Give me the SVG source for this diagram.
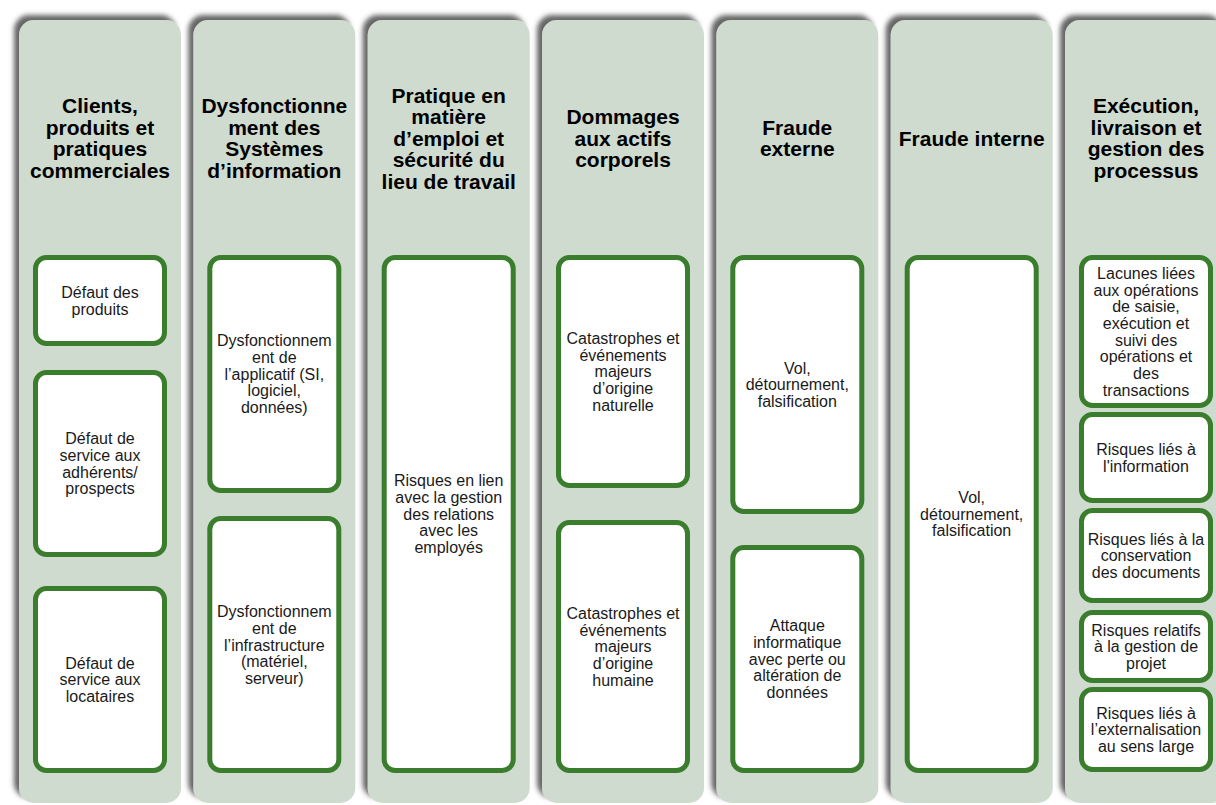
<svg xmlns="http://www.w3.org/2000/svg" width="1216" height="805" viewBox="0 0 1216 805">
<defs>
<filter id="sh" x="-10%" y="-5%" width="120%" height="110%">
<feDropShadow dx="-5" dy="-5" stdDeviation="2.5" flood-color="#3c3c3c" flood-opacity="0.8"/>
</filter>
</defs>
<style>
.col{fill:#cfdbcf;filter:url(#sh)}
.box{fill:#ffffff;stroke:#3a7d2c;stroke-width:5}
.h{font-family:"Liberation Sans",Arial,sans-serif;font-weight:bold;font-size:21px;fill:#000;text-anchor:middle}
.t{font-family:"Liberation Sans",Arial,sans-serif;font-size:16px;fill:#1a1a1a;text-anchor:middle}
</style>
<rect width="1216" height="805" fill="#ffffff"/>
<g id="connectors"></g>

<g id="col1">
<rect class="col" x="19" y="20" width="162" height="783" rx="15"/>
<text class="h"><tspan x="100" y="113.25">Clients,</tspan><tspan x="100" y="134.75">produits et</tspan><tspan x="100" y="156.25">pratiques</tspan><tspan x="100" y="177.75">commerciales</tspan></text>
<g id="c1b1"><rect class="box" x="35.5" y="257.5" width="129" height="86" rx="11"/>
<text class="t"><tspan x="100" y="297.9">Défaut des</tspan><tspan x="100" y="314.6">produits</tspan></text></g>
<g id="c1b2"><rect class="box" x="35.5" y="372.5" width="129" height="182" rx="11"/>
<text class="t"><tspan x="100" y="444.2">Défaut de</tspan><tspan x="100" y="460.9">service aux</tspan><tspan x="100" y="477.6">adhérents/</tspan><tspan x="100" y="494.3">prospects</tspan></text></g>
<g id="c1b3"><rect class="box" x="35.5" y="588.5" width="129" height="182" rx="11"/>
<text class="t"><tspan x="100" y="668.55">Défaut de</tspan><tspan x="100" y="685.25">service aux</tspan><tspan x="100" y="701.95">locataires</tspan></text></g>
</g>

<g id="col2">
<rect class="col" x="193.3" y="20" width="162" height="783" rx="15"/>
<text class="h"><tspan x="274.3" y="113.25">Dysfonctionne</tspan><tspan x="274.3" y="134.75">ment des</tspan><tspan x="274.3" y="156.25">Systèmes</tspan><tspan x="274.3" y="177.75">d’information</tspan></text>
<g id="c2b1"><rect class="box" x="209.8" y="257.5" width="129" height="233" rx="11"/>
<text class="t"><tspan x="274.3" y="346.35">Dysfonctionnem</tspan><tspan x="274.3" y="363.05">ent de</tspan><tspan x="274.3" y="379.75">l’applicatif (SI,</tspan><tspan x="274.3" y="396.45">logiciel,</tspan><tspan x="274.3" y="413.15">données)</tspan></text></g>
<g id="c2b2"><rect class="box" x="209.8" y="518.5" width="129" height="252" rx="11"/>
<text class="t"><tspan x="274.3" y="617.35">Dysfonctionnem</tspan><tspan x="274.3" y="634.05">ent de</tspan><tspan x="274.3" y="650.75">l’infrastructure</tspan><tspan x="274.3" y="667.45">(matériel,</tspan><tspan x="274.3" y="684.15">serveur)</tspan></text></g>
</g>

<g id="col3">
<rect class="col" x="367.7" y="20" width="162" height="783" rx="15"/>
<text class="h"><tspan x="448.7" y="102.5">Pratique en</tspan><tspan x="448.7" y="124">matière</tspan><tspan x="448.7" y="145.5">d’emploi et</tspan><tspan x="448.7" y="167">sécurité du</tspan><tspan x="448.7" y="188.5">lieu de travail</tspan></text>
<g id="c3b1"><rect class="box" x="384.2" y="257.5" width="129" height="513" rx="11"/>
<text class="t"><tspan x="448.7" y="486.35">Risques en lien</tspan><tspan x="448.7" y="503.05">avec la gestion</tspan><tspan x="448.7" y="519.75">des relations</tspan><tspan x="448.7" y="536.45">avec les</tspan><tspan x="448.7" y="553.15">employés</tspan></text></g>
</g>

<g id="col4">
<rect class="col" x="542" y="20" width="162" height="783" rx="15"/>
<text class="h"><tspan x="623" y="124">Dommages</tspan><tspan x="623" y="145.5">aux actifs</tspan><tspan x="623" y="167">corporels</tspan></text>
<g id="c4b1"><rect class="box" x="558.5" y="257.5" width="129" height="228" rx="11"/>
<text class="t"><tspan x="623" y="343.85">Catastrophes et</tspan><tspan x="623" y="360.55">événements</tspan><tspan x="623" y="377.25">majeurs</tspan><tspan x="623" y="393.95">d’origine</tspan><tspan x="623" y="410.65">naturelle</tspan></text></g>
<g id="c4b2"><rect class="box" x="558.5" y="522.5" width="129" height="248" rx="11"/>
<text class="t"><tspan x="623" y="618.85">Catastrophes et</tspan><tspan x="623" y="635.55">événements</tspan><tspan x="623" y="652.25">majeurs</tspan><tspan x="623" y="668.95">d’origine</tspan><tspan x="623" y="685.65">humaine</tspan></text></g>
</g>

<g id="col5">
<rect class="col" x="716.3" y="20" width="162" height="783" rx="15"/>
<text class="h"><tspan x="797.3" y="134.75">Fraude</tspan><tspan x="797.3" y="156.25">externe</tspan></text>
<g id="c5b1"><rect class="box" x="732.8" y="257.5" width="129" height="254" rx="11"/>
<text class="t"><tspan x="797.3" y="373.55">Vol,</tspan><tspan x="797.3" y="390.25">détournement,</tspan><tspan x="797.3" y="406.95">falsification</tspan></text></g>
<g id="c5b2"><rect class="box" x="732.8" y="547.5" width="129" height="223" rx="11"/>
<text class="t"><tspan x="797.3" y="631.35">Attaque</tspan><tspan x="797.3" y="648.05">informatique</tspan><tspan x="797.3" y="664.75">avec perte ou</tspan><tspan x="797.3" y="681.45">altération de</tspan><tspan x="797.3" y="698.15">données</tspan></text></g>
</g>

<g id="col6">
<rect class="col" x="890.7" y="20" width="162" height="783" rx="15"/>
<text class="h"><tspan x="971.7" y="145.5">Fraude interne</tspan></text>
<g id="c6b1"><rect class="box" x="907.2" y="257.5" width="129" height="513" rx="11"/>
<text class="t"><tspan x="971.7" y="503.05">Vol,</tspan><tspan x="971.7" y="519.75">détournement,</tspan><tspan x="971.7" y="536.45">falsification</tspan></text></g>
</g>

<g id="col7">
<rect class="col" x="1065" y="20" width="162" height="783" rx="15"/>
<text class="h"><tspan x="1146" y="113.25">Exécution,</tspan><tspan x="1146" y="134.75">livraison et</tspan><tspan x="1146" y="156.25">gestion des</tspan><tspan x="1146" y="177.75">processus</tspan></text>
<g id="c7b1"><rect class="box" x="1081.5" y="257.5" width="129" height="148" rx="11"/>
<text class="t"><tspan x="1146" y="278.8">Lacunes liées</tspan><tspan x="1146" y="295.5">aux opérations</tspan><tspan x="1146" y="312.2">de saisie,</tspan><tspan x="1146" y="328.9">exécution et</tspan><tspan x="1146" y="345.6">suivi des</tspan><tspan x="1146" y="362.3">opérations et</tspan><tspan x="1146" y="379">des</tspan><tspan x="1146" y="395.7">transactions</tspan></text></g>
<g id="c7b2"><rect class="box" x="1081.5" y="414.5" width="129" height="86" rx="11"/>
<text class="t"><tspan x="1146" y="454.9">Risques liés à</tspan><tspan x="1146" y="471.6">l'information</tspan></text></g>
<g id="c7b3"><rect class="box" x="1081.5" y="510.5" width="129" height="90" rx="11"/>
<text class="t"><tspan x="1146" y="544.55">Risques liés à la</tspan><tspan x="1146" y="561.25">conservation</tspan><tspan x="1146" y="577.95">des documents</tspan></text></g>
<g id="c7b4"><rect class="box" x="1081.5" y="612.5" width="129" height="68" rx="11"/>
<text class="t"><tspan x="1146" y="635.55">Risques relatifs</tspan><tspan x="1146" y="652.25">à la gestion de</tspan><tspan x="1146" y="668.95">projet</tspan></text></g>
<g id="c7b5"><rect class="box" x="1081.5" y="689.5" width="129" height="80" rx="11"/>
<text class="t"><tspan x="1146" y="718.55">Risques liés à</tspan><tspan x="1146" y="735.25">l’externalisation</tspan><tspan x="1146" y="751.95">au sens large</tspan></text></g>
</g>
</svg>
